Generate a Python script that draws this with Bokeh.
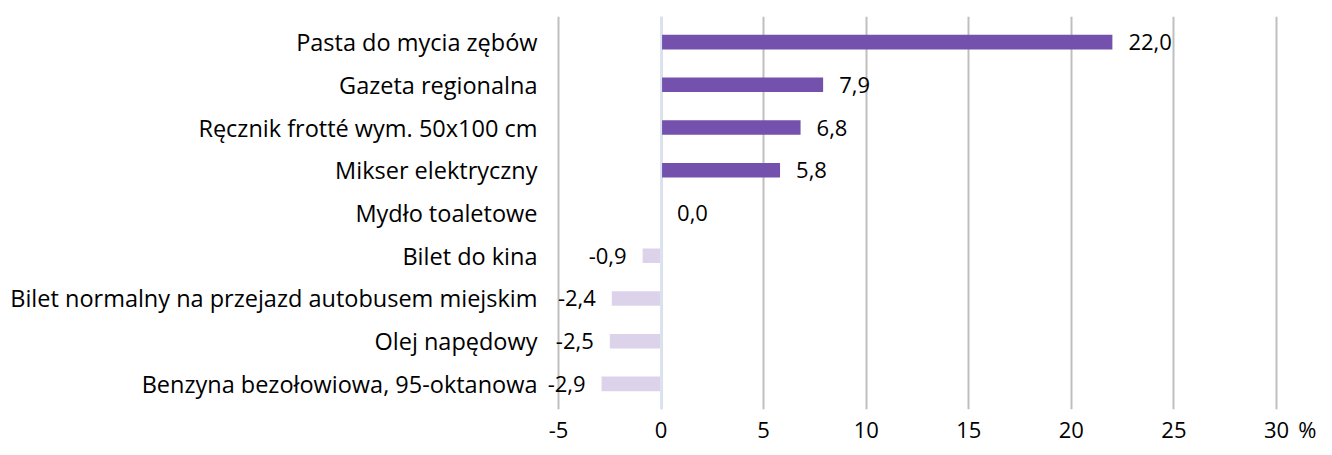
from bokeh.plotting import figure
from bokeh.models import ColumnDataSource, FactorRange, Range1d, FixedTicker, Span
from bokeh.core.properties import value
from bokeh.embed import file_html
from bokeh.resources import INLINE

categories = [
    "Pasta do mycia zębów",
    "Gazeta regionalna",
    "Ręcznik frotté wym. 50x100 cm",
    "Mikser elektryczny",
    "Mydło toaletowe",
    "Bilet do kina",
    "Bilet normalny na przejazd autobusem miejskim",
    "Olej napędowy",
    "Benzyna bezołowiowa, 95-oktanowa",
]
values = [22.0, 7.9, 6.8, 5.8, 0.0, -0.9, -2.4, -2.5, -2.9]
x_ticks = [-5, 0, 5, 10, 15, 20, 25, 30]
unit_label = "%"
unit_pos = 31.6

POS = "#7451AC"
NEG = "#DCD3EA"
FONT = "Open Sans"

labels = [f"{v:.1f}".replace(".", ",") for v in values]
colors = [POS if v >= 0 else NEG for v in values]
pos_src = ColumnDataSource(dict(
    y=[c for c, v in zip(categories, values) if v >= 0],
    x=[v for v in values if v >= 0],
    t=[l for l, v in zip(labels, values) if v >= 0],
))
neg_src = ColumnDataSource(dict(
    y=[c for c, v in zip(categories, values) if v < 0],
    x=[v for v in values if v < 0],
    t=[l for l, v in zip(labels, values) if v < 0],
))
bar_src = ColumnDataSource(dict(y=categories, right=values, color=colors))

p = figure(
    width=1316, height=447,
    y_range=FactorRange(factors=list(reversed(categories)), range_padding=0.1, range_padding_units="absolute"),
    x_range=Range1d(-5.78, 31.95),
    output_backend="svg", toolbar_location=None,
    min_border_left=542, min_border_right=0, min_border_top=16, min_border_bottom=38,
)
p.outline_line_color = None
p.background_fill_color = "white"

p.hbar(y="y", left=0, right="right", height=0.34, color="color", source=bar_src, line_color=None)

p.text(x="x", y="y", text="t", source=pos_src, x_offset=16, text_align="left",
       text_baseline="middle", text_font=value(FONT), text_font_size="22px", text_color="#000000")
p.text(x="x", y="y", text="t", source=neg_src, x_offset=-16, text_align="right",
       text_baseline="middle", text_font=value(FONT), text_font_size="22px", text_color="#000000")

axis_ticks = x_ticks + [unit_pos]
p.xaxis.ticker = FixedTicker(ticks=axis_ticks)
overrides = {t: str(t) for t in x_ticks}
overrides[unit_pos] = unit_label
p.xaxis.major_label_overrides = overrides
p.xgrid.ticker = FixedTicker(ticks=x_ticks)
p.xgrid.grid_line_color = "#BFBFBF"
p.xgrid.grid_line_width = 2
p.ygrid.grid_line_color = None

p.add_layout(Span(location=0, dimension="height", line_color="#DAE3F3", line_width=2), "center")

p.xaxis.axis_line_color = None
p.xaxis.major_tick_line_color = None
p.xaxis.minor_tick_line_color = None
p.xaxis.major_tick_out = 0
p.xaxis.major_label_standoff = 4
p.xaxis.major_label_text_font = FONT
p.xaxis.major_label_text_font_size = "22px"
p.xaxis.major_label_text_color = "#000000"

p.yaxis.axis_line_color = None
p.yaxis.major_tick_line_color = None
p.yaxis.major_tick_out = 0
p.yaxis.major_label_standoff = 5
p.yaxis.major_label_text_font = FONT
p.yaxis.major_label_text_font_size = "23.5px"
p.yaxis.major_label_text_color = "#000000"

open("out.html", "w").write(file_html(p, INLINE))
